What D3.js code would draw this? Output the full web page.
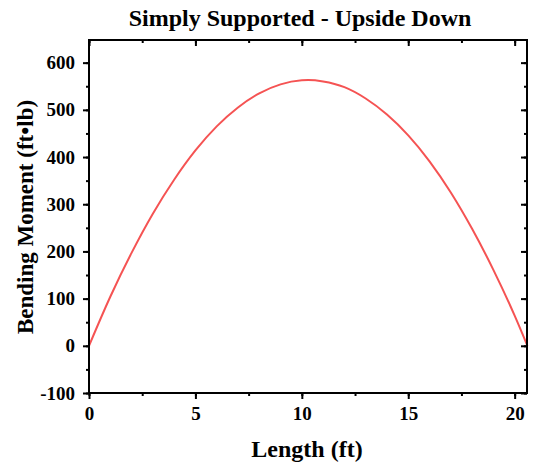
<!DOCTYPE html>
<html>
<head>
<meta charset="utf-8">
<script src="https://cdn.jsdelivr.net/npm/d3@7"></script>
<style>
  body { margin: 0; background: #fff; }
  svg text { font-family: "Liberation Serif", "Times New Roman", serif; font-weight: bold; fill: #000; }
</style>
</head>
<body>
<svg id="chart" width="535" height="464"></svg>
<script>
// values
var length_ft = [0, 1, 2, 3, 4, 5, 6, 7, 8, 9, 10, 10.3, 11, 12, 13, 14, 15, 16, 17, 18, 19, 20, 20.6];
var moment_ftlb = [0, 104, 197, 280, 352, 414, 465, 505, 535, 554, 562.5, 563, 560, 548, 524, 490, 446, 391, 325, 248, 161, 64, 0];
var x_ticks = [0, 5, 10, 15, 20];
var y_ticks = [-100, 0, 100, 200, 300, 400, 500, 600];

var svg = d3.select('#chart');

var plot_left = 89, plot_right = 527, plot_top = 40, plot_bottom = 393;

var x_scale = d3.scaleLinear().domain([0, 20.58]).range([plot_left, plot_right]);
var y_scale = d3.scaleLinear().domain([-100, 648]).range([plot_bottom, plot_top]);

var data = length_ft.map(function(x, i) { return {x: x, y: moment_ftlb[i]}; });

// curve
var line = d3.line()
    .x(function(d) { return x_scale(d.x); })
    .y(function(d) { return y_scale(d.y); })
    .curve(d3.curveMonotoneX);

svg.append('path')
    .datum(data)
    .attr('fill', 'none')
    .attr('stroke', '#f55353')
    .attr('stroke-width', 2)
    .attr('d', line);

var x_minor = d3.range(0, 20.6, 2.5);
var y_minor = d3.range(-100, 648, 50);

// plain hyphen for negatives, like the original
var fmt = function(d) { return String(d); };

function style_axis(g) {
    g.select('.domain').remove();
    g.attr('font-size', null).attr('font-family', null);
    g.selectAll('.tick line').attr('stroke', '#000').attr('stroke-width', 2);
    g.selectAll('.tick text').style('font-size', '19px');
}

// minor ticks (outside on bottom / left, inside on top / right)
svg.append('g').attr('transform', 'translate(0,' + plot_bottom + ')')
    .call(d3.axisBottom(x_scale).tickValues(x_minor).tickSize(3).tickFormat(''))
    .call(style_axis);
svg.append('g').attr('transform', 'translate(' + plot_left + ',0)')
    .call(d3.axisLeft(y_scale).tickValues(y_minor).tickSize(3).tickFormat(''))
    .call(style_axis);
svg.append('g').attr('transform', 'translate(0,' + plot_top + ')')
    .call(d3.axisBottom(x_scale).tickValues(x_minor).tickSize(3).tickFormat(''))
    .call(style_axis);
svg.append('g').attr('transform', 'translate(' + plot_right + ',0)')
    .call(d3.axisLeft(y_scale).tickValues(y_minor).tickSize(3).tickFormat(''))
    .call(style_axis);

// major ticks
svg.append('g').attr('transform', 'translate(0,' + plot_bottom + ')')
    .call(d3.axisBottom(x_scale).tickValues(x_ticks).tickSize(6).tickPadding(8).tickFormat(fmt))
    .call(style_axis);
svg.append('g').attr('transform', 'translate(' + plot_left + ',0)')
    .call(d3.axisLeft(y_scale).tickValues(y_ticks).tickSize(6).tickPadding(8).tickFormat(fmt))
    .call(style_axis);
svg.append('g').attr('transform', 'translate(0,' + plot_top + ')')
    .call(d3.axisBottom(x_scale).tickValues(x_ticks).tickSize(6).tickFormat(''))
    .call(style_axis);
svg.append('g').attr('transform', 'translate(' + plot_right + ',0)')
    .call(d3.axisLeft(y_scale).tickValues(y_ticks).tickSize(6).tickFormat(''))
    .call(style_axis);

// frame
svg.append('rect')
    .attr('x', plot_left).attr('y', plot_top)
    .attr('width', plot_right - plot_left).attr('height', plot_bottom - plot_top)
    .attr('fill', 'none').attr('stroke', '#000').attr('stroke-width', 2);

// titles
svg.append('text')
    .attr('x', 300).attr('y', 26)
    .attr('text-anchor', 'middle')
    .style('font-size', '24px')
    .text('Simply Supported - Upside Down');

svg.append('text')
    .attr('x', 307).attr('y', 457)
    .attr('text-anchor', 'middle')
    .style('font-size', '24px')
    .text('Length (ft)');

svg.append('text')
    .attr('transform', 'translate(33,217) rotate(-90)')
    .attr('text-anchor', 'middle')
    .style('font-size', '23px')
    .text('Bending Moment (ft\u2022lb)');
</script>
</body>
</html>
